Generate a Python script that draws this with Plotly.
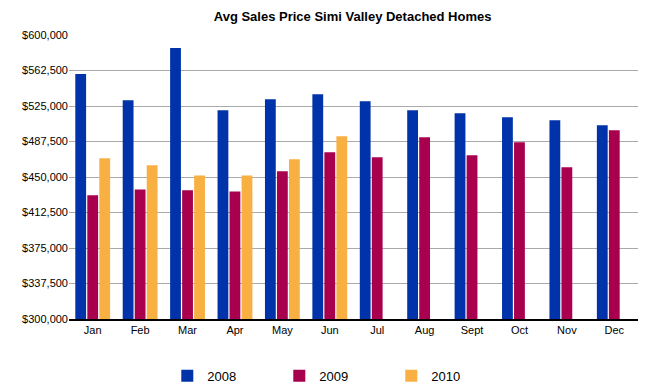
import plotly.graph_objects as go

months = ["Jan", "Feb", "Mar", "Apr", "May", "Jun", "Jul", "Aug", "Sept", "Oct", "Nov", "Dec"]
sales_2008 = [558700, 531200, 586200, 520600, 532200, 537500, 530100, 520600, 517400, 513200, 510000, 504700]
sales_2009 = [430600, 436900, 435900, 434800, 456000, 476100, 470800, 492000, 472900, 486700, 460200, 499400]
sales_2010 = [469700, 462300, 451700, 451700, 468700, 493000, None, None, None, None, None, None]
tick_values = [300000 + 37500 * i for i in range(9)]
tick_labels = ["$" + format(v, ",d") for v in tick_values]

fig = go.Figure()
for name, vals, color in [("2008", sales_2008, "#0033AA"),
                          ("2009", sales_2009, "#A8004F"),
                          ("2010", sales_2010, "#F8B042")]:
    fig.add_trace(go.Bar(x=months, y=vals, name=name, marker=dict(color=color, line=dict(width=0))))

fig.update_layout(
    width=653, height=389,
    margin=dict(l=69, r=15, t=35, b=70, autoexpand=False),
    paper_bgcolor="white", plot_bgcolor="white",
    barmode="group", bargap=0.24, bargroupgap=0.1,
    font=dict(family="Liberation Sans, Arial, sans-serif", size=11, color="black"),
    title=dict(text="<b>Avg Sales Price Simi Valley Detached Homes</b>", x=0.54, xanchor="center",
               y=1 - 16 / 389, yanchor="middle", font=dict(size=13, color="black")),
    showlegend=True,
    legend=dict(orientation="h", x=0.468, xanchor="center", y=-0.2, yanchor="middle",
                font=dict(size=13), entrywidth=67, entrywidthmode="pixels", traceorder="normal"),
    xaxis=dict(showgrid=False, showline=True, linecolor="black", linewidth=1.5, ticks="",
               tickfont=dict(size=11)),
    yaxis=dict(range=[300000, 600000], tickvals=tick_values, ticktext=tick_labels,
               showgrid=True, gridcolor="#AAAAAA", gridwidth=1, zeroline=False, showline=False,
               ticks="", tickfont=dict(size=11)),
)
fig.write_html("out.html", config={"displayModeBar": False},
               post_script="document.body.style.margin='0';")
